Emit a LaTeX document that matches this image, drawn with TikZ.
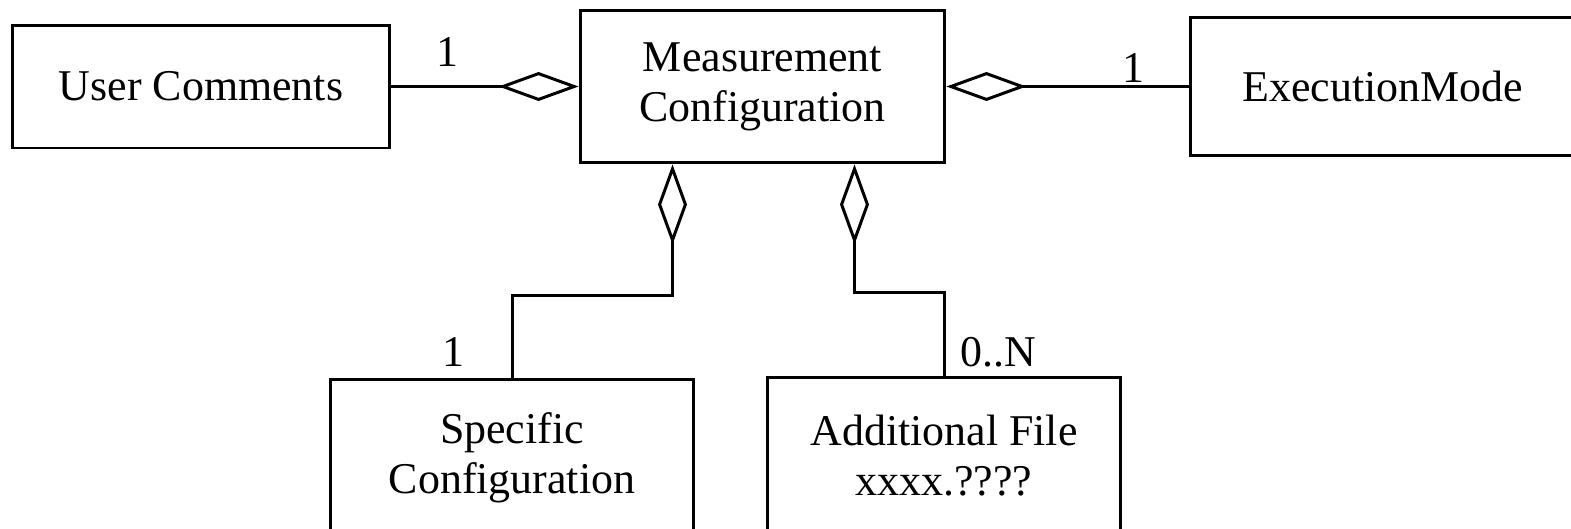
\documentclass[tikz,border=0pt]{standalone}
\usepackage{fontspec}
\setmainfont{Liberation Serif}
\usetikzlibrary{arrows.meta,calc,positioning}
\tikzset{
  cls/.style={draw,line width=1.7pt,align=center,inner sep=0pt,
    font=\fontsize{25}{28.5}\selectfont},
  agg/.style={{Diamond[open,length=1.6cm,width=0.58cm]}-,line width=1.7pt},
  mult/.style={inner sep=0pt,font=\fontsize{25}{28}\selectfont}
}
\begin{document}
\begin{tikzpicture}[x=0.02cm,y=-0.02cm]
\useasboundingbox (0,0) rectangle (1571,528);
\clip (0,0) rectangle (1571,528);
\node[cls,minimum width=7.56cm,minimum height=2.46cm] (user) at (201,86.5) {User Comments};
\node[cls,minimum width=7.3cm,minimum height=3.06cm] (meas) at (762.5,86.5) {Measurement\\Configuration};
\node[cls,minimum width=7.7cm,minimum height=2.78cm] (exec) at (1382.5,86.5) {ExecutionMode};
\node[cls,minimum width=7.28cm,minimum height=3.16cm] (spec) at (512,458) {Specific\\Configuration};
\node[cls,minimum width=7.08cm,minimum height=3.16cm] (file) at (944,456) {Additional File\\xxxx.????};
% aggregations
\draw[agg] (meas.west) -- (user.east);
\draw[agg] (meas.east) -- (exec.west);
\draw[agg] ($(meas.south)+(-90,0)$) -- ++(0,131) -| (spec.north);
\draw[agg] ($(meas.south)+(92,0)$) -- ++(0,128) -| (file.north);
% multiplicities
\node[mult] (m1) at (447,52) {1};
\node[mult] (m2) at (1133,68) {1};
\node[mult] (m3) at (453,352) {1};
\node[mult] (m4) at (998,352) {0..N};
\end{tikzpicture}
\end{document}
